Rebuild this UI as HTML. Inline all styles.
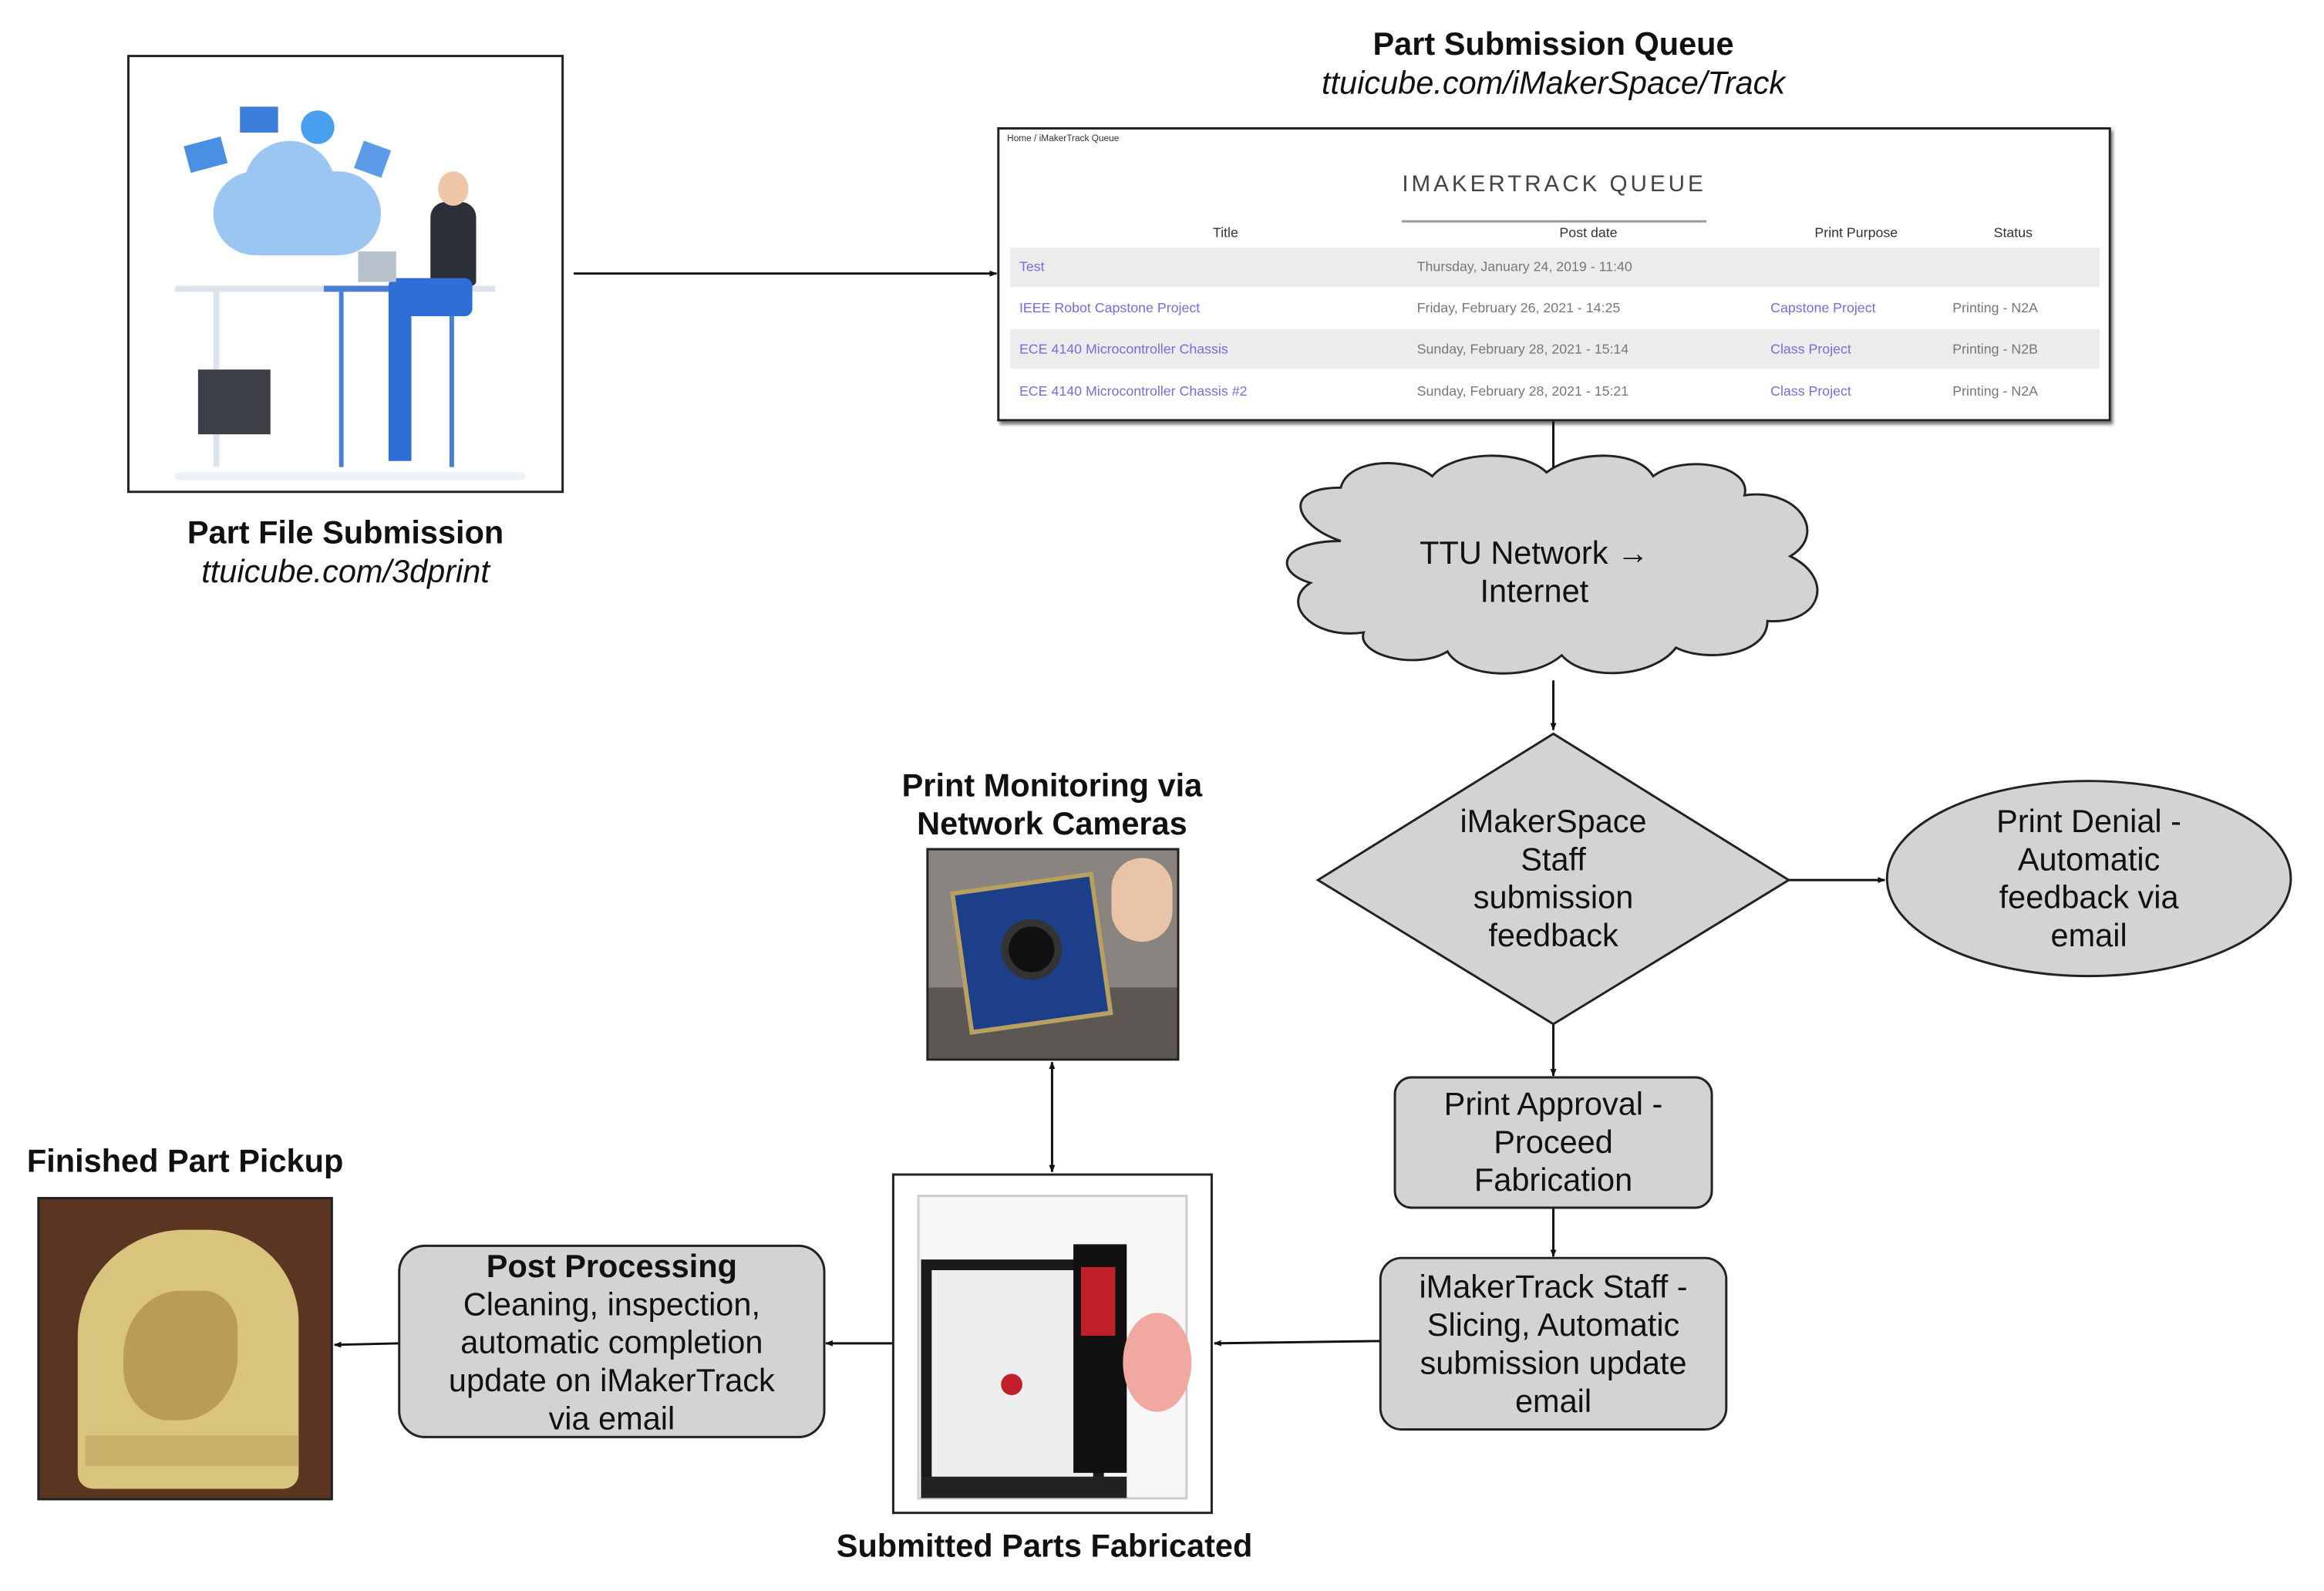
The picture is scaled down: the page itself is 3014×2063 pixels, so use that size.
<!DOCTYPE html>
<html><head><meta charset="utf-8"><style>
*{margin:0;padding:0;box-sizing:border-box}
body{width:3014px;height:2063px;background:#fff;position:relative;overflow:hidden;font-family:"Liberation Sans",Arial,sans-serif;color:#111}
#w{position:absolute;left:0;top:0;width:3014px;height:2063px;transform:scale(0.988);transform-origin:0 0}
.a{position:absolute}
.t{position:absolute;text-align:center;font-size:42px;line-height:50px;white-space:nowrap}
.b{font-weight:bold}
.i{font-style:italic}
.q{position:absolute;font-size:18px;color:#777;white-space:nowrap}
.l{color:#7a6ae0}
</style></head><body><div id="w">

<div class="a" style="left:167px;top:72px;width:573px;height:575px;border:3px solid #222;background:#fff;overflow:hidden">
  <div class="a" style="left:110px;top:150px;width:220px;height:110px;background:#9cc6f2;border-radius:60px"></div>
  <div class="a" style="left:150px;top:110px;width:120px;height:120px;background:#9cc6f2;border-radius:50%"></div>
  <div class="a" style="left:75px;top:110px;width:50px;height:36px;background:#4a90e2;transform:rotate(-15deg)"></div>
  <div class="a" style="left:145px;top:65px;width:50px;height:34px;background:#3b7dd8"></div>
  <div class="a" style="left:225px;top:70px;width:44px;height:44px;background:#4aa0ee;border-radius:50%"></div>
  <div class="a" style="left:300px;top:115px;width:38px;height:38px;background:#5b9be8;transform:rotate(20deg)"></div>
  <div class="a" style="left:60px;top:300px;width:420px;height:8px;background:#dde3ea"></div>
  <div class="a" style="left:110px;top:308px;width:8px;height:230px;background:#dde3ea"></div>
  <div class="a" style="left:255px;top:300px;width:190px;height:8px;background:#4a7ed6"></div>
  <div class="a" style="left:275px;top:308px;width:6px;height:230px;background:#4a7ed6"></div>
  <div class="a" style="left:420px;top:308px;width:6px;height:230px;background:#4a7ed6"></div>
  <div class="a" style="left:395px;top:190px;width:60px;height:110px;background:#2b2f3a;border-radius:20px 20px 6px 6px"></div>
  <div class="a" style="left:405px;top:150px;width:40px;height:45px;background:#f0c6a8;border-radius:50%"></div>
  <div class="a" style="left:340px;top:290px;width:110px;height:50px;background:#2e6ed6;border-radius:10px"></div>
  <div class="a" style="left:340px;top:330px;width:30px;height:200px;background:#2e6ed6"></div>
  <div class="a" style="left:300px;top:255px;width:50px;height:40px;background:#b8c2cc"></div>
  <div class="a" style="left:90px;top:410px;width:95px;height:85px;background:#3c3f46"></div>
  <div class="a" style="left:60px;top:545px;width:460px;height:10px;background:#eef1f4;border-radius:5px"></div>
</div>
<div class="t b" style="left:167px;top:674px;width:573px">Part File Submission</div>
<div class="t i" style="left:167px;top:725px;width:573px">ttuicube.com/3dprint</div>

<div class="t b" style="left:1511px;top:33px;width:1056px">Part Submission Queue</div>
<div class="t i" style="left:1511px;top:84px;width:1056px">ttuicube.com/iMakerSpace/Track</div>
<div class="a" style="left:1309px;top:167px;width:1462px;height:386px;border:3px solid #222;box-shadow:3px 4px 4px #777;background:#fff">
  <div class="q" style="left:10px;top:4px;font-size:12px;color:#333">Home / iMakerTrack Queue</div>
  <div class="q" style="left:0;width:1456px;top:55px;text-align:center;font-size:30px;letter-spacing:4px;color:#444">IMAKERTRACK QUEUE</div>
  <div class="a" style="left:528px;top:119px;width:400px;height:3px;background:#999"></div>
  <div class="q" style="left:280px;top:125px;color:#333">Title</div>
  <div class="q" style="left:735px;top:125px;color:#333">Post date</div>
  <div class="q" style="left:1070px;top:125px;color:#333">Print Purpose</div>
  <div class="q" style="left:1305px;top:125px;color:#333">Status</div>
  <div class="a" style="left:14px;top:155px;width:1430px;height:52px;background:#ececec"></div>
  <div class="a" style="left:14px;top:262px;width:1430px;height:52px;background:#ececec"></div>
  <div class="q l" style="left:26px;top:170px">Test</div>
  <div class="q" style="left:548px;top:170px">Thursday, January 24, 2019 - 11:40</div>
  <div class="q l" style="left:26px;top:224px">IEEE Robot Capstone Project</div>
  <div class="q" style="left:548px;top:224px">Friday, February 26, 2021 - 14:25</div>
  <div class="q l" style="left:1012px;top:224px">Capstone Project</div>
  <div class="q" style="left:1251px;top:224px">Printing - N2A</div>
  <div class="q l" style="left:26px;top:278px">ECE 4140 Microcontroller Chassis</div>
  <div class="q" style="left:548px;top:278px">Sunday, February 28, 2021 - 15:14</div>
  <div class="q l" style="left:1012px;top:278px">Class Project</div>
  <div class="q" style="left:1251px;top:278px">Printing - N2B</div>
  <div class="q l" style="left:26px;top:333px">ECE 4140 Microcontroller Chassis #2</div>
  <div class="q" style="left:548px;top:333px">Sunday, February 28, 2021 - 15:21</div>
  <div class="q l" style="left:1012px;top:333px">Class Project</div>
  <div class="q" style="left:1251px;top:333px">Printing - N2A</div>
</div>

<svg class="a" style="left:0;top:0" width="3014" height="2063">
<defs><marker id="m" markerWidth="10" markerHeight="10" refX="9" refY="5" orient="auto" markerUnits="userSpaceOnUse" viewBox="0 0 10 10"><path d="M0,1 L10,5 L0,9 z" fill="#111"/></marker>
<marker id="ms" markerWidth="10" markerHeight="10" refX="1" refY="5" orient="auto" markerUnits="userSpaceOnUse" viewBox="0 0 10 10"><path d="M10,1 L0,5 L10,9 z" fill="#111"/></marker></defs>
<g stroke="#111" stroke-width="3" fill="none">
<line x1="753" y1="359" x2="1308" y2="359" marker-end="url(#m)"/>
<line x1="2039" y1="553" x2="2039" y2="631" marker-end="url(#m)"/>
<line x1="2039" y1="893" x2="2039" y2="958" marker-end="url(#m)"/>
<line x1="2348" y1="1155" x2="2474" y2="1155" marker-end="url(#m)"/>
<line x1="2039" y1="1344" x2="2039" y2="1412" marker-end="url(#m)"/>
<line x1="2039" y1="1585" x2="2039" y2="1649" marker-end="url(#m)"/>
<line x1="1812" y1="1760" x2="1594" y2="1763" marker-end="url(#m)"/>
<line x1="1381" y1="1394" x2="1381" y2="1538" marker-end="url(#m)" marker-start="url(#ms)"/>
<line x1="1171" y1="1763" x2="1084" y2="1763" marker-end="url(#m)"/>
<line x1="524" y1="1763" x2="439" y2="1765" marker-end="url(#m)"/>
</g>
<path d="M1760,710 C1700,690 1680,640 1760,640 C1770,600 1850,600 1880,625 C1910,590 2000,590 2030,620 C2070,590 2150,590 2170,625 C2210,595 2300,610 2290,650 C2360,640 2400,700 2350,730 C2410,760 2390,820 2320,815 C2320,860 2240,870 2200,850 C2170,890 2080,895 2050,860 C2010,895 1920,890 1900,855 C1860,880 1780,860 1790,830 C1720,840 1680,790 1720,765 C1670,750 1680,710 1760,710 Z" fill="#d3d3d3" stroke="#222" stroke-width="3"/>
<polygon points="2039,963 2348,1155 2039,1344 1730,1155" fill="#d3d3d3" stroke="#222" stroke-width="3"/>
<ellipse cx="2742" cy="1153" rx="265" ry="128" fill="#d3d3d3" stroke="#222" stroke-width="3"/>
<rect x="1831" y="1414" width="416" height="171" rx="22" fill="#d3d3d3" stroke="#222" stroke-width="3"/>
<rect x="1812" y="1651" width="454" height="225" rx="28" fill="#d3d3d3" stroke="#222" stroke-width="3"/>
<rect x="524" y="1635" width="558" height="251" rx="34" fill="#d3d3d3" stroke="#222" stroke-width="3"/>
</svg>

<div class="t" style="left:1740px;top:701px;width:548px">TTU Network →<br>Internet</div>
<div class="t" style="left:1840px;top:1053px;width:398px">iMakerSpace<br>Staff<br>submission<br>feedback</div>
<div class="t" style="left:2480px;top:1053px;width:524px">Print Denial -<br>Automatic<br>feedback via<br>email</div>
<div class="t" style="left:1831px;top:1424px;width:416px">Print Approval -<br>Proceed<br>Fabrication</div>
<div class="t" style="left:1812px;top:1664px;width:454px">iMakerTrack Staff -<br>Slicing, Automatic<br>submission update<br>email</div>
<div class="t" style="left:524px;top:1637px;width:558px"><span class="b">Post Processing</span><br>Cleaning, inspection,<br>automatic completion<br>update on iMakerTrack<br>via email</div>

<div class="t b" style="left:1131px;top:1006px;width:500px">Print Monitoring via<br>Network Cameras</div>
<div class="a" style="left:1216px;top:1113px;width:332px;height:279px;border:3px solid #222;background:#8a8480;overflow:hidden">
  <div class="a" style="left:0;top:180px;width:332px;height:100px;background:#5d5753"></div>
  <div class="a" style="left:40px;top:40px;width:190px;height:190px;background:#1d3f8a;transform:rotate(-8deg);border:6px solid #b8a060"></div>
  <div class="a" style="left:95px;top:90px;width:80px;height:80px;background:#111;border-radius:50%;border:10px solid #333"></div>
  <div class="a" style="left:240px;top:10px;width:80px;height:110px;background:#e8c4a8;border-radius:40px"></div>
</div>

<div class="a" style="left:1171px;top:1540px;width:421px;height:447px;border:3px solid #222;background:#fff;overflow:hidden">
  <div class="a" style="left:30px;top:25px;width:355px;height:400px;border:3px solid #ccc;background:#f7f7f7"></div>
  <div class="a" style="left:35px;top:110px;width:240px;height:300px;border:14px solid #1a1a1a;background:#eee"></div>
  <div class="a" style="left:235px;top:90px;width:70px;height:300px;background:#111"></div>
  <div class="a" style="left:245px;top:120px;width:45px;height:90px;background:#c0202a"></div>
  <div class="a" style="left:300px;top:180px;width:90px;height:130px;border-radius:50%;background:#f0a8a0"></div>
  <div class="a" style="left:140px;top:260px;width:28px;height:28px;border-radius:50%;background:#c0202a"></div>
  <div class="a" style="left:35px;top:395px;width:270px;height:28px;background:#222"></div>
</div>
<div class="t b" style="left:1071px;top:2004px;width:600px">Submitted Parts Fabricated</div>

<div class="t b" style="left:0;top:1499px;width:486px">Finished Part Pickup</div>
<div class="a" style="left:49px;top:1571px;width:388px;height:398px;border:3px solid #222;background:#5a3522;overflow:hidden">
  <div class="a" style="left:50px;top:40px;width:290px;height:340px;background:#d9c47e;border-radius:140px 120px 20px 20px"></div>
  <div class="a" style="left:110px;top:120px;width:150px;height:170px;background:#b89c58;border-radius:50% 30% 50% 40%"></div>
  <div class="a" style="left:60px;top:310px;width:280px;height:40px;background:#c8b06a"></div>
</div>
</div></body></html>
